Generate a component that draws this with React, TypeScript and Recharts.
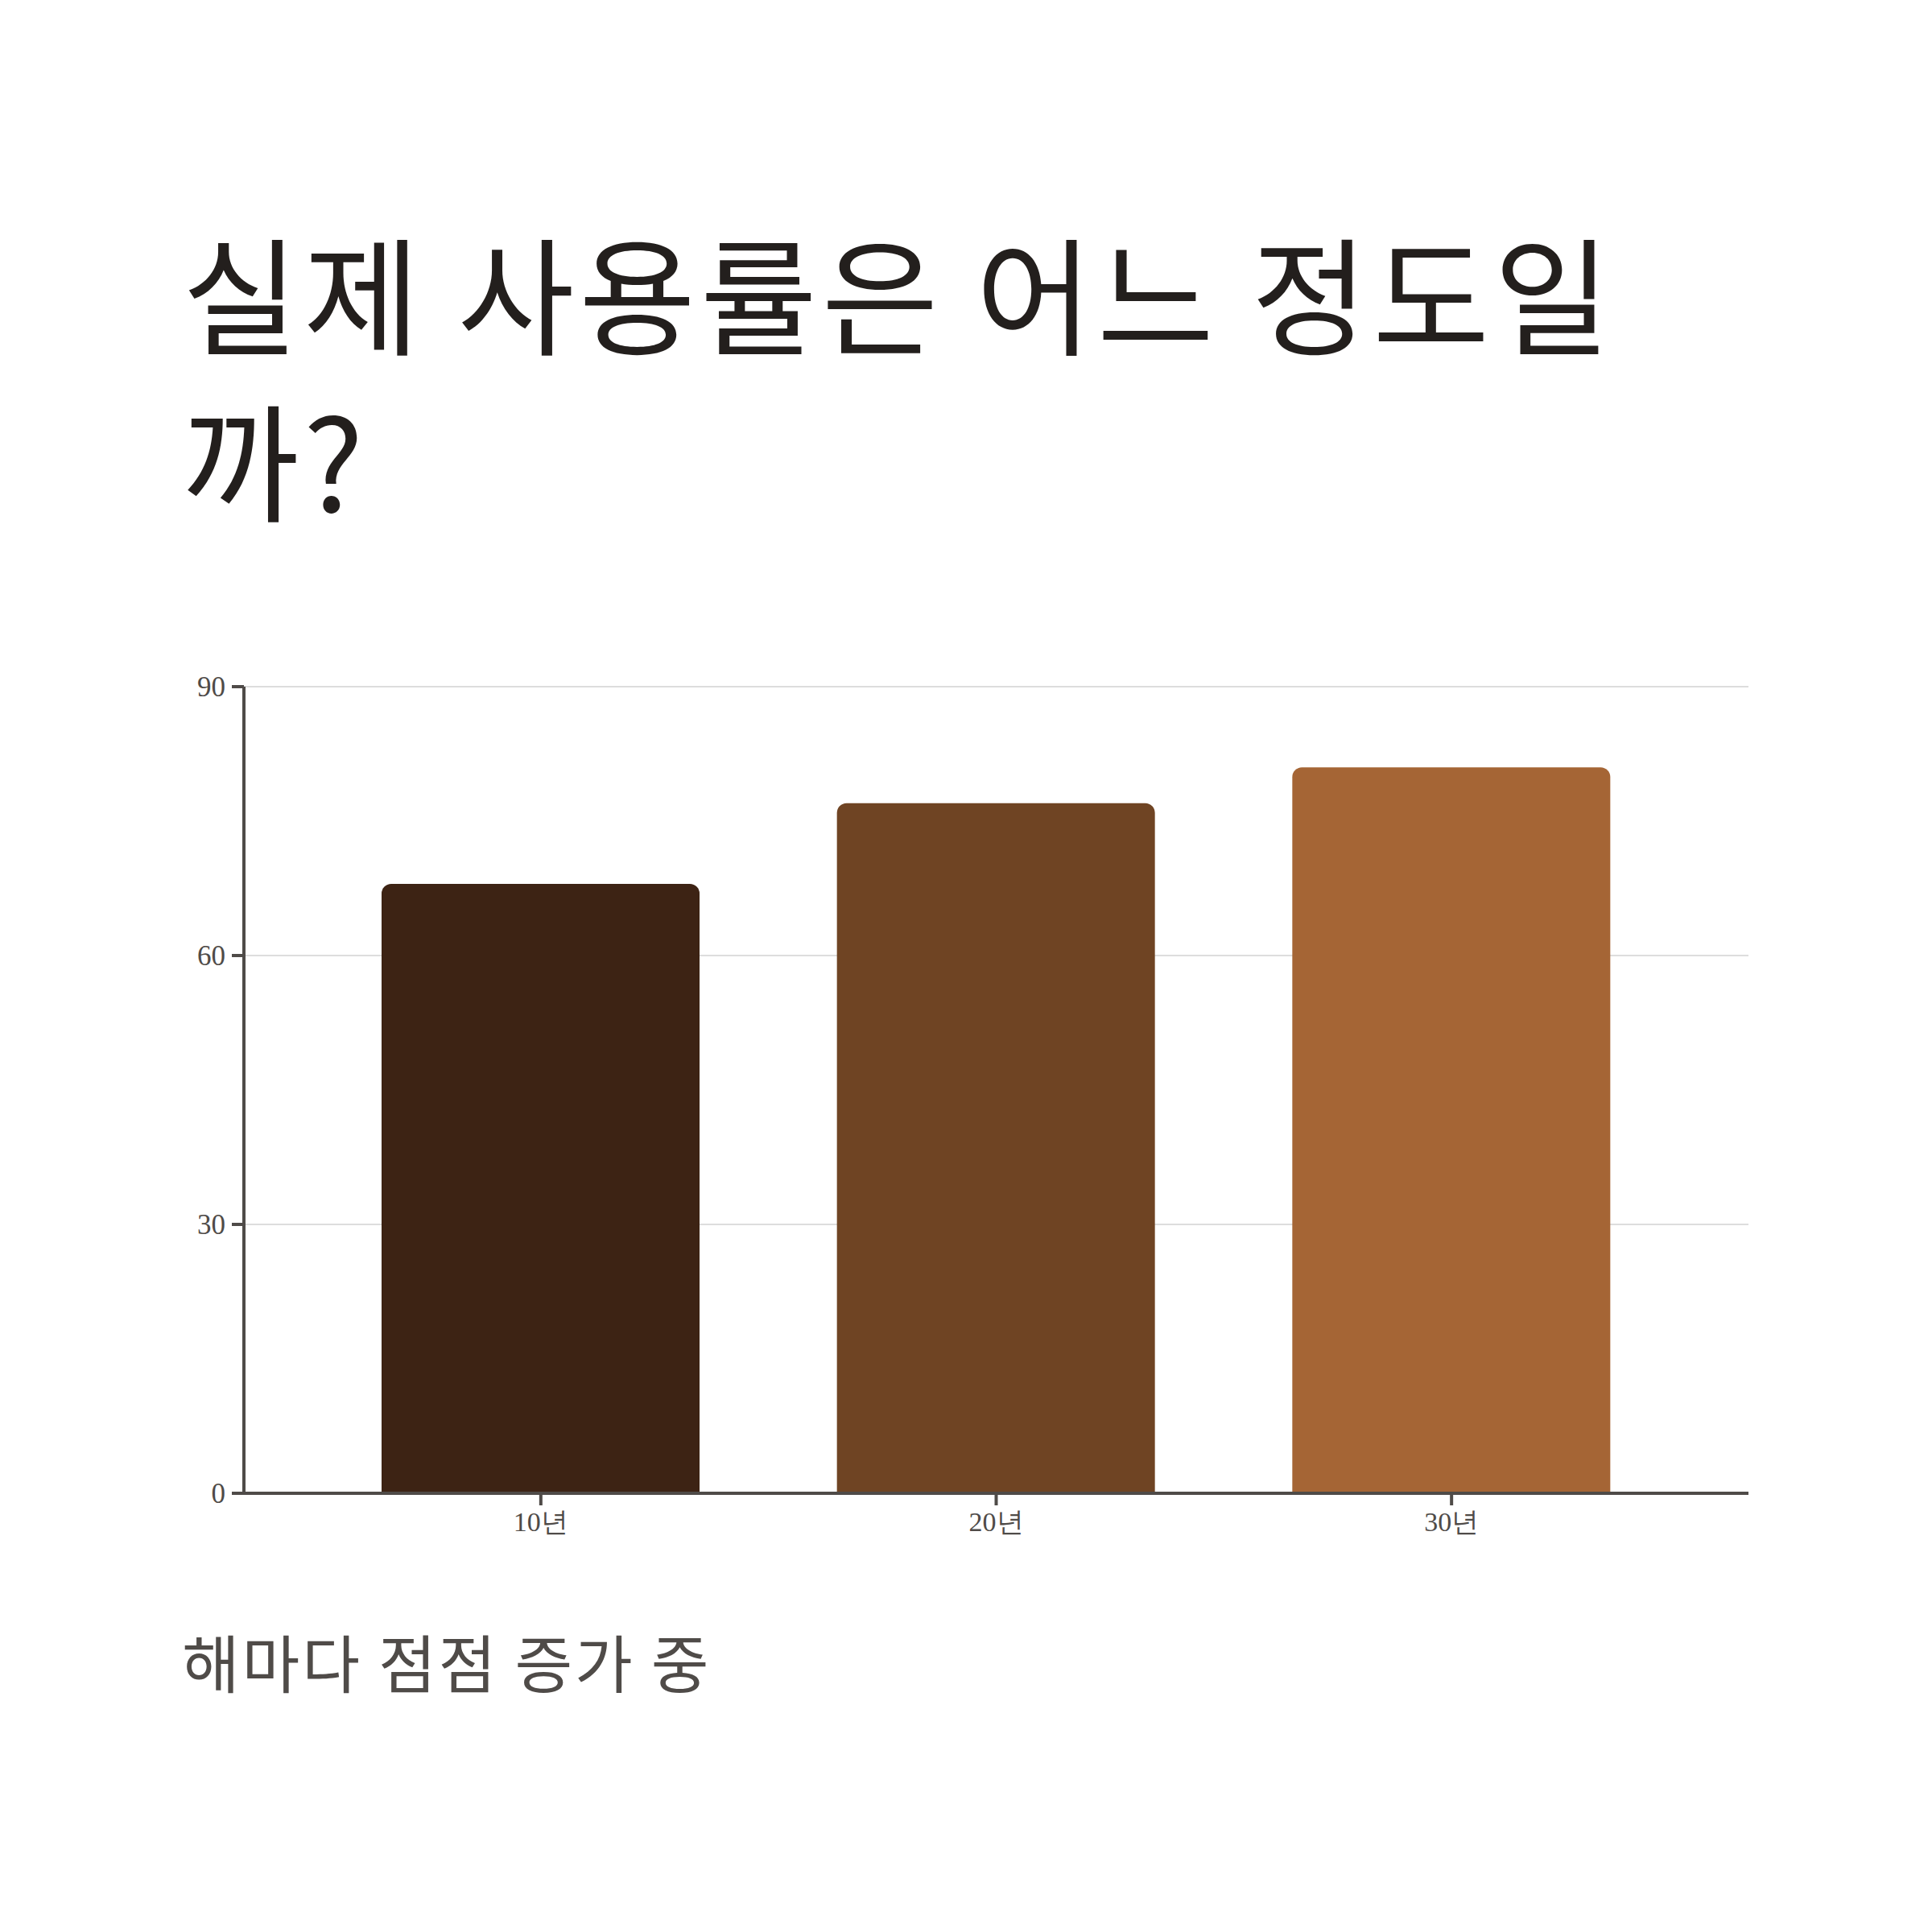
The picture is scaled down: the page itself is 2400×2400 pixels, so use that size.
import { BarChart, Bar, XAxis, YAxis, CartesianGrid, Cell } from 'recharts'

const years = ['10년', '20년', '30년']
const usage = [68, 77, 81]
const yTicks = [0, 30, 60, 90]

const barColors = ['#3d2314', '#6f4423', '#a56535']
const axisColor = '#4f4b48'

const chartData = years.map((name, i) => ({ name, value: usage[i] }))

export default function App() {
    return (
        <div style={{ position: 'absolute', left: 0, top: 0, width: 2400, height: 2400, background: '#fff' }}>
            <div
                style={{
                    position: 'absolute',
                    left: 226,
                    top: 257,
                    width: 1850,
                    fontFamily: "'Noto Sans CJK KR', sans-serif",
                    fontSize: 158,
                    fontWeight: 400,
                    letterSpacing: '0.034em',
                    lineHeight: '207px',
                    color: '#231f1d',
                }}
            >
                실제 사용률은 어느 정도일까?
            </div>

            <div style={{ position: 'absolute', left: 200, top: 800 }}>
                <BarChart
                    width={2000}
                    height={1150}
                    data={chartData}
                    margin={{ top: 53, right: 28, left: 0, bottom: 25 }}
                >
                    <CartesianGrid vertical={false} stroke="#dddddd" strokeWidth={2} />
                    <XAxis
                        dataKey="name"
                        height={70}
                        padding={{ left: 86, right: 86 }}
                        tickSize={15}
                        tickMargin={8}
                        axisLine={{ stroke: axisColor, strokeWidth: 4 }}
                        tickLine={{ stroke: axisColor, strokeWidth: 4 }}
                        tick={{ fill: axisColor, fontSize: 34 }}
                    />
                    <YAxis
                        width={103}
                        domain={[0, 90]}
                        ticks={yTicks}
                        tickSize={15}
                        tickMargin={8}
                        axisLine={{ stroke: axisColor, strokeWidth: 4 }}
                        tickLine={{ stroke: axisColor, strokeWidth: 4 }}
                        tick={{ fill: axisColor, fontSize: 35 }}
                    />
                    <Bar dataKey="value" barSize={395} radius={[12, 12, 0, 0]} isAnimationActive={false}>
                        {chartData.map((d, i) => (
                            <Cell key={d.name} fill={barColors[i]} />
                        ))}
                    </Bar>
                </BarChart>
            </div>

            <div
                style={{
                    position: 'absolute',
                    left: 226,
                    top: 2008,
                    fontFamily: "'Noto Sans CJK KR', sans-serif",
                    fontSize: 78,
                    letterSpacing: '0.036em',
                    lineHeight: '110px',
                    color: axisColor,
                }}
            >
                해마다 점점 증가 중
            </div>
        </div>
    )
}
